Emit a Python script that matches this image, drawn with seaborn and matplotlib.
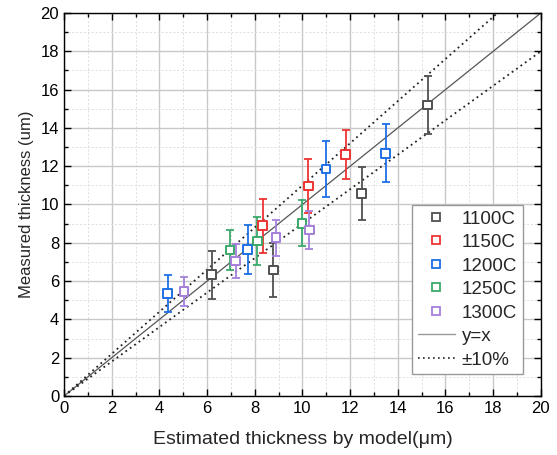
import numpy as np
import pandas as pd
import matplotlib
matplotlib.use("Agg")
import matplotlib.pyplot as plt
from matplotlib.lines import Line2D
from matplotlib.ticker import MultipleLocator
import seaborn as sns

# data
temps = ["1100C", "1150C", "1200C", "1250C", "1300C"]
est_1100 = [6.2, 8.78, 12.48, 15.26]
meas_1100 = [6.33, 6.58, 10.58, 15.2]
err_1100 = [1.25, 1.4, 1.37, 1.5]
est_1150 = [8.33, 10.24, 11.82]
meas_1150 = [8.89, 10.97, 12.62]
err_1150 = [1.42, 1.4, 1.28]
est_1200 = [4.35, 7.7, 10.99, 13.49]
meas_1200 = [5.36, 7.66, 11.85, 12.67]
err_1200 = [0.95, 1.27, 1.48, 1.52]
est_1250 = [6.96, 8.11, 9.98]
meas_1250 = [7.62, 8.09, 9.02]
err_1250 = [1.05, 1.25, 1.2]
est_1300 = [5.03, 7.2, 8.89, 10.29]
meas_1300 = [5.47, 7.05, 8.27, 8.67]
err_1300 = [0.76, 0.87, 0.94, 0.97]

colors = ["#505050", "#EE3333", "#1E6FE6", "#3AAA6A", "#A57FDB"]

rows = []
for t, xs, ys, es in zip(temps,
                         [est_1100, est_1150, est_1200, est_1250, est_1300],
                         [meas_1100, meas_1150, meas_1200, meas_1250, meas_1300],
                         [err_1100, err_1150, err_1200, err_1250, err_1300]):
    for x, y, e in zip(xs, ys, es):
        rows.append({"temp": t, "est": x, "meas": y, "err": e})
df = pd.DataFrame(rows)

sns.set_style("ticks")
plt.rcParams["font.family"] = ["Liberation Sans", "DejaVu Sans"]

fig = plt.figure(figsize=(5.57, 4.55), dpi=100)
ax = fig.add_axes([0.115, 0.1297, 0.856, 0.8417])

# reference lines
line_x = np.array([0, 20])
ax.plot(line_x, line_x, color="#555555", lw=0.9, zorder=2)
ax.plot(line_x, 1.1 * line_x, color="#222222", lw=1.3, ls=(0, (1, 2)), zorder=2)
ax.plot(line_x, 0.9 * line_x, color="#222222", lw=1.3, ls=(0, (1, 2)), zorder=2)

palette = dict(zip(temps, colors))
for t in temps:
    sub = df[df["temp"] == t]
    ax.errorbar(sub["est"], sub["meas"], yerr=sub["err"], fmt="none",
                ecolor=palette[t], elinewidth=1.3, capsize=3, capthick=1.3, zorder=3)

sns.scatterplot(data=df, x="est", y="meas", hue="temp", palette=palette,
                marker="s", s=40, linewidth=1.4,
                legend=False, ax=ax, zorder=4)
# open squares: edge colour from hue
coll = ax.collections[-1]
coll.set_edgecolors(coll.get_facecolors())
coll.set_facecolors("white")

ax.set_xlim(0, 20)
ax.set_ylim(0, 20)
ax.xaxis.set_major_locator(MultipleLocator(2))
ax.yaxis.set_major_locator(MultipleLocator(2))
ax.xaxis.set_minor_locator(MultipleLocator(1))
ax.yaxis.set_minor_locator(MultipleLocator(1))
ax.grid(which="major", color="#c8c8c8", lw=1.0)
ax.grid(which="minor", color="#dddddd", lw=0.7, ls=(0, (2, 2)))
ax.set_axisbelow(True)
ax.tick_params(which="both", direction="in", top=True, right=True,
               labelsize=12, colors="black", width=1.0)
ax.tick_params(which="major", length=5)
ax.tick_params(which="minor", length=3)
for s in ax.spines.values():
    s.set_color("black")
    s.set_linewidth(1.0)

ax.set_xlabel("Estimated thickness by model(μm)", fontsize=14, labelpad=11)
ax.set_ylabel("Measured thickness (um)", fontsize=12, labelpad=5)

handles = [Line2D([], [], marker="s", ls="none", markersize=6, markerfacecolor="white",
                  markeredgecolor=c, markeredgewidth=1.3) for c in colors]
handles.append(Line2D([], [], color="#999999", lw=1.0))
handles.append(Line2D([], [], color="#222222", lw=1.2, ls=(0, (1, 2))))
labels = temps + ["y=x", "±10%"]
leg = ax.legend(handles, labels, loc="lower right", bbox_to_anchor=(0.962, 0.057),
                borderaxespad=0, fontsize=13.5, frameon=True, fancybox=False, framealpha=1,
                edgecolor="#999999", handlelength=2.0, handletextpad=0.35,
                labelspacing=0.34, borderpad=0.3)
leg.get_frame().set_linewidth(1.0)

fig.savefig("out.png", dpi=100)
